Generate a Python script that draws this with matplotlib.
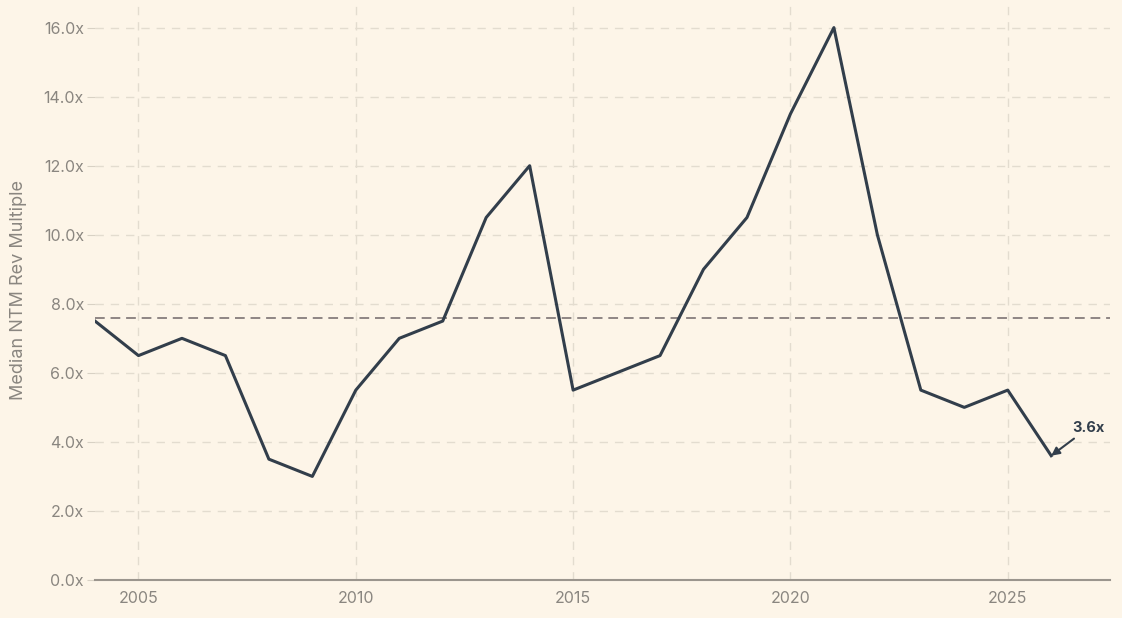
import numpy as np
import matplotlib.pyplot as plt
from matplotlib.ticker import FuncFormatter

years = [2004, 2005, 2006, 2007, 2008, 2009, 2010, 2011, 2012, 2013, 2014, 2015,
         2016, 2017, 2018, 2019, 2020, 2021, 2022, 2023, 2024, 2025, 2026]
multiples = [7.5, 6.5, 7.0, 6.5, 3.5, 3.0, 5.5, 7.0, 7.5, 10.5, 12.0, 5.5,
             6.0, 6.5, 9.0, 10.5, 13.5, 16.0, 10.0, 5.5, 5.0, 5.5, 3.6]
avg_multiple = 7.6
xticks = [2005, 2010, 2015, 2020, 2025]
yticks = [0, 2, 4, 6, 8, 10, 12, 14, 16]

bg = '#fdf5e8'
line_col = '#323e4b'
txt_col = '#8a8680'

plt.rcParams['font.family'] = ['Inter', 'DejaVu Sans']

fig = plt.figure(figsize=(11.22, 6.18), dpi=100, facecolor=bg)
ax = fig.add_axes([0.0847, 0.0615, 0.9045, 0.9385])
ax.set_facecolor(bg)

ax.plot(years, multiples, color=line_col, lw=2.2, zorder=3)
ax.axhline(avg_multiple, color='#8e8584', lw=1.4, ls=(0, (5, 3)), zorder=2)

# label for the latest value
ax.annotate(f'{multiples[-1]:.1f}x', xy=(years[-1], multiples[-1]),
            xytext=(years[-1] + 0.85, multiples[-1] + 0.6),
            fontsize=10.5, fontweight='bold', color=line_col, ha='center', va='bottom',
            arrowprops=dict(arrowstyle='-|>', color=line_col, lw=1.5, mutation_scale=12,
                            shrinkA=1, shrinkB=0))

ax.set_xlim(2004, 2027.35)
ax.set_ylim(0, 16.8)
ax.set_xticks(xticks)
ax.set_yticks(yticks)
ax.yaxis.set_major_formatter(FuncFormatter(lambda v, p: f'{v:.1f}x'))
ax.grid(True, color='#e3dccf', lw=1, ls=(0, (6, 5)), zorder=0)
ax.tick_params(axis='y', length=6, color='#d8d1c4', labelsize=11.5, labelcolor=txt_col, pad=2)
ax.tick_params(axis='x', length=0, labelsize=11.5, labelcolor=txt_col, pad=8)
for s in ['top', 'right', 'left']:
    ax.spines[s].set_visible(False)
ax.spines['bottom'].set_color('#9b958d')
ax.spines['bottom'].set_linewidth(1.5)
ax.set_ylabel('Median NTM Rev Multiple', fontsize=13, color=txt_col, labelpad=12)

fig.savefig('out.png', dpi=100, facecolor=bg)
